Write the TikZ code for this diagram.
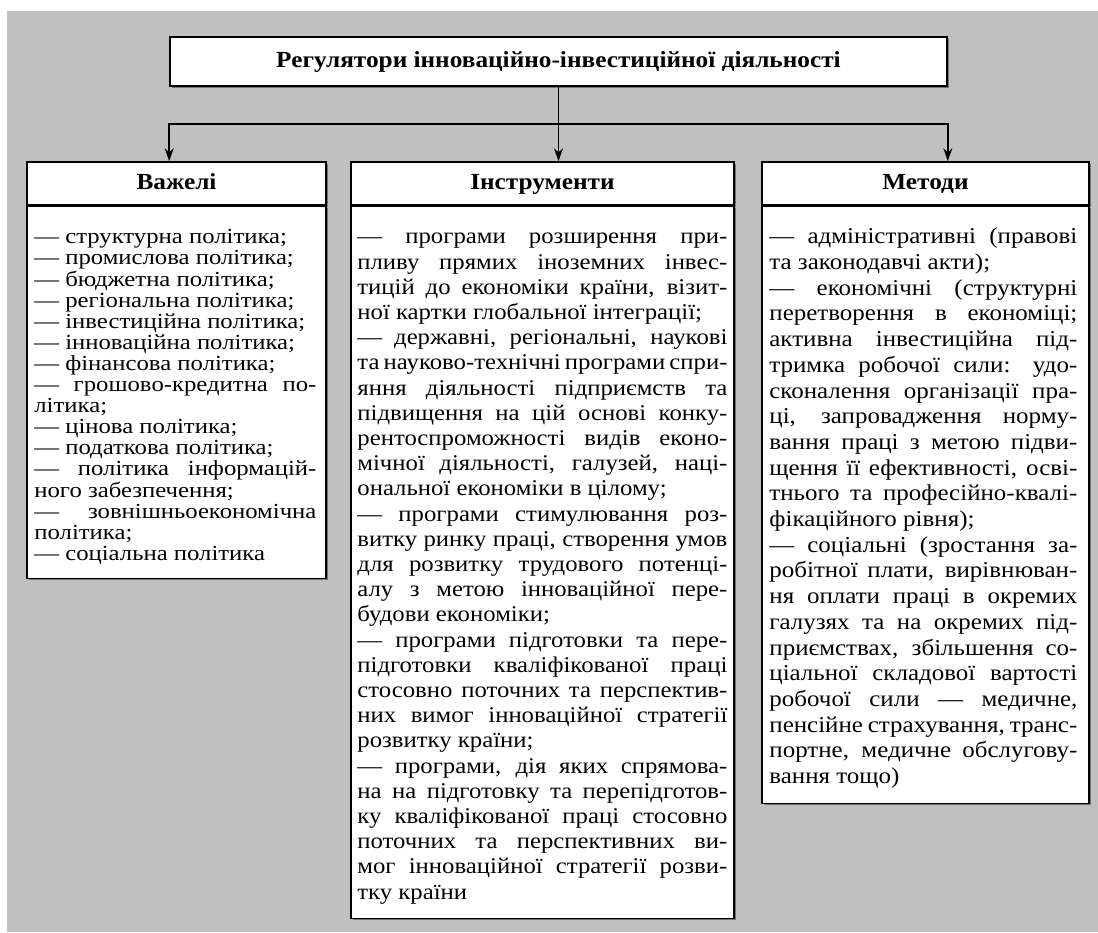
\documentclass[tikz,border=0pt]{standalone}
\usepackage{fontspec}
\setmainfont{Liberation Serif}[FakeStretch=1.1]
\newfontfamily\levfont{Liberation Serif}[FakeStretch=1.15]
\usepackage{xcolor}
\usetikzlibrary{arrows.meta,positioning,shadows}

\definecolor{bgGray}{RGB}{192,192,192}
\newcommand\jline[1]{\hbox to\hsize{#1}}
\newcommand\eline[1]{\hbox to\hsize{#1\hfil}}
\newcommand\txtcol[3]{\vtop{\hsize=#1\baselineskip=#2\lineskiplimit=-100pt #3}}

\begin{document}
\begin{tikzpicture}[x=1pt,y=-1pt,
  box/.style={draw=black,line width=1.6pt,fill=white,inner sep=0pt,
    drop shadow={shadow xshift=1.6pt,shadow yshift=-1.6pt,fill=black!55,opacity=1}},
  head/.style={box,minimum height=43pt,text height=16pt,text depth=5pt,
    font=\fontsize{23}{25}\selectfont\bfseries},
  body/.style={box,anchor=north},
  txt/.style={anchor=base west,inner sep=0pt},
  link/.style={line width=1.6pt,-{Stealth[length=13pt,width=9pt]}}]
\def\cBack{bgGray}
\useasboundingbox (0,0) rectangle (1098,932);
\fill[\cBack] (7,11) rectangle (1098,932);

\node[box,minimum width=777pt,minimum height=49pt,text height=16pt,text depth=5pt,
  font=\fontsize{23}{25}\selectfont\bfseries] (reg) at (558.5,61.5)
  {Регулятори інноваційно-інвестиційної діяльності};

\node[head,minimum width=299pt] (lev) at (176.5,183.5) {Важелі};
\node[head,minimum width=383pt] (ins) at (542.5,183.5) {Інструменти};
\node[head,minimum width=327pt] (met) at (925.5,183.5) {Методи};

\node[body,minimum width=299pt,minimum height=372pt] (levBody) at (lev.south) {};
\node[body,minimum width=383pt,minimum height=712pt] (insBody) at (ins.south) {};
\node[body,minimum width=327pt,minimum height=597pt] (metBody) at (met.south) {};

% connectors
\coordinate (bus) at (reg.south |- 0,124);
\draw[link] (reg.south) -- (reg.south |- ins.north);
\draw[link] (bus) -| (reg.south west |- lev.north);
\draw[link] (bus) -| (reg.south east |- met.north);

% lists
\node[txt,font=\levfont\fontsize{21.5}{23}\selectfont] (levText) at ([shift={(8,38)}]levBody.north west) {\txtcol{282pt}{21.1pt}{%
\eline{— структурна політика;}
\eline{— промислова політика;}
\eline{— бюджетна політика;}
\eline{— регіональна політика;}
\eline{— інвестиційна політика;}
\eline{— інноваційна політика;}
\eline{— фінансова політика;}
\jline{— грошово-кредитна по-}
\eline{літика;}
\eline{— цінова політика;}
\eline{— податкова політика;}
\jline{— політика інформацій-}
\eline{ного забезпечення;}
\jline{— зовнішньоекономічна}
\eline{політика;}
\eline{— соціальна політика}}};

\node[txt,font=\fontsize{22.5}{25}\selectfont] (insText) at ([shift={(7,38)}]insBody.north west) {\txtcol{370pt}{25.2pt}{%
\jline{— програми розширення при-}
\jline{пливу прямих іноземних інвес-}
\jline{тицій до економіки країни, візит-}
\eline{ної картки глобальної інтеграції;}
\jline{— державні, регіональні, наукові}
\jline{та науково-технічні програми спри-}
\jline{яння діяльності підприємств та}
\jline{підвищення на цій основі конку-}
\jline{рентоспроможності видів еконо-}
\jline{мічної діяльності, галузей, наці-}
\eline{ональної економіки в цілому;}
\jline{— програми стимулювання роз-}
\jline{витку ринку праці, створення умов}
\jline{для розвитку трудового потенці-}
\jline{алу з метою інноваційної пере-}
\eline{будови економіки;}
\jline{— програми підготовки та пере-}
\jline{підготовки кваліфікованої праці}
\jline{стосовно поточних та перспектив-}
\jline{них вимог інноваційної стратегії}
\eline{розвитку країни;}
\jline{— програми, дія яких спрямова-}
\jline{на на підготовку та перепідготов-}
\jline{ку кваліфікованої праці стосовно}
\jline{поточних та перспективних ви-}
\jline{мог інноваційної стратегії розви-}
\eline{тку країни}}};

\node[txt,font=\fontsize{22.7}{25}\selectfont] (metText) at ([shift={(8,38)}]metBody.north west) {\txtcol{308pt}{25.7pt}{%
\jline{— адміністративні (правові}
\eline{та законодавчі акти);}
\jline{— економічні (структурні}
\jline{перетворення в економіці;}
\jline{активна інвестиційна під-}
\jline{тримка робочої сили: удо-}
\jline{сконалення організації пра-}
\jline{ці, запровадження норму-}
\jline{вання праці з метою підви-}
\jline{щення її ефективності, осві-}
\jline{тнього та професійно-квалі-}
\eline{фікаційного рівня);}
\jline{— соціальні (зростання за-}
\jline{робітної плати, вирівнюван-}
\jline{ня оплати праці в окремих}
\jline{галузях та на окремих під-}
\jline{приємствах, збільшення со-}
\jline{ціальної складової вартості}
\jline{робочої сили — медичне,}
\jline{пенсійне страхування, транс-}
\jline{портне, медичне обслугову-}
\eline{вання тощо)}}};
\end{tikzpicture}
\end{document}
